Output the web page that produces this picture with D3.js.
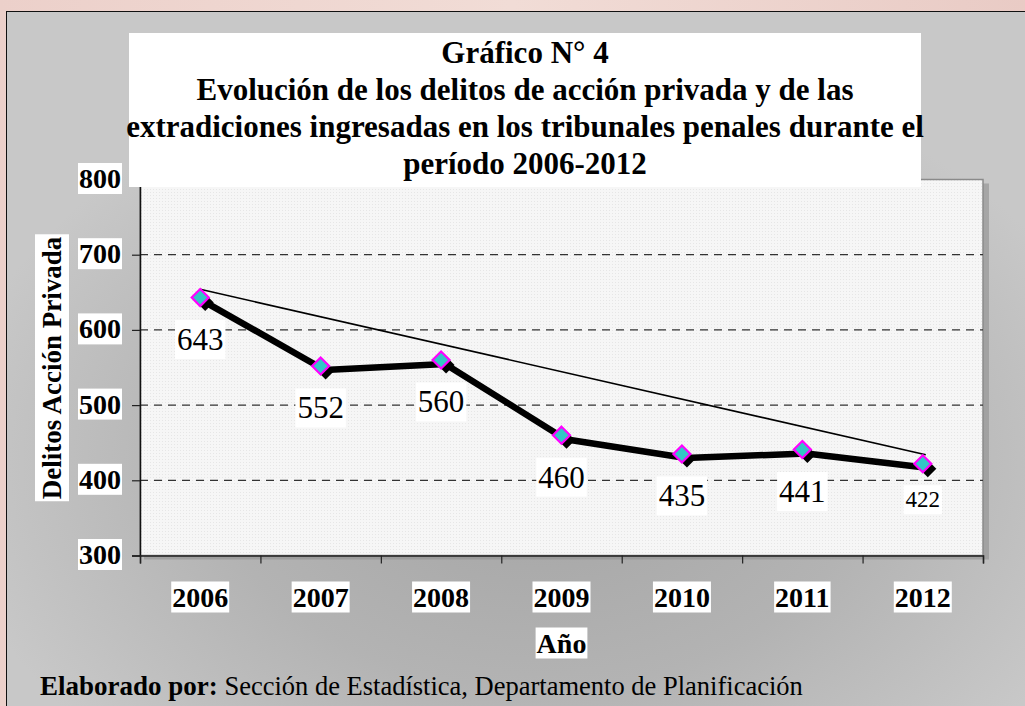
<!DOCTYPE html>
<html>
<head>
<meta charset="utf-8">
<script src="https://cdn.jsdelivr.net/npm/d3@7"></script>
<style>
  html, body { margin: 0; padding: 0; background: #efd8d2; }
  svg { display: block; font-family: "Liberation Serif", "Times New Roman", serif; }
</style>
</head>
<body>
<svg id="chart" width="1025" height="706"></svg>
<script>
// chart data
const years = ["2006", "2007", "2008", "2009", "2010", "2011", "2012"];
const delitos = [643, 552, 560, 460, 435, 441, 422];
const trendValues = [654, 434]; // hand drawn trend line, first year to last year
const yTicks = [300, 400, 500, 600, 700, 800];
const gridTicks = [400, 500, 600, 700];
const titleLines = [
  "Gráfico N° 4",
  "Evolución de los delitos de acción privada y de las",
  "extradiciones ingresadas en los tribunales penales durante el",
  "período 2006-2012"
];
const yTitle = "Delitos Acción Privada";
const xTitle = "Año";
const sourceBold = "Elaborado por:";
const sourceText = " Sección de Estadística, Departamento de Planificación";

const width = 1025, height = 706;
const margin = {top: 179.5, right: 42, bottom: 150.5, left: 140};

const svg = d3.select("#chart");
const defs = svg.append("defs");

// pinkish page background
const bgGrad = defs.append("linearGradient")
  .attr("id", "bgGrad").attr("x1", "0%").attr("y1", "0%").attr("x2", "100%").attr("y2", "0%");
bgGrad.append("stop").attr("offset", "0%").attr("stop-color", "#ecd0ca");
bgGrad.append("stop").attr("offset", "50%").attr("stop-color", "#f1dcd6");
bgGrad.append("stop").attr("offset", "100%").attr("stop-color", "#e9cbc5");

svg.append("rect").attr("width", width).attr("height", height).attr("fill", "url(#bgGrad)");

// gray panel with darker halo round the plot
const panelGrad = defs.append("radialGradient")
  .attr("id", "panelGrad").attr("cx", "52%").attr("cy", "64%").attr("r", "58%");
panelGrad.append("stop").attr("offset", "0%").attr("stop-color", "#a4a4a4");
panelGrad.append("stop").attr("offset", "55%").attr("stop-color", "#b3b3b3");
panelGrad.append("stop").attr("offset", "100%").attr("stop-color", "#c8c8c8");

svg.append("rect")
  .attr("x", 6.5).attr("y", 11.5)
  .attr("width", width).attr("height", height)
  .attr("fill", "url(#panelGrad)")
  .attr("stroke", "#111").attr("stroke-width", 1);

const x = d3.scaleBand()
  .domain(years)
  .range([margin.left, width - margin.right]);

const y = d3.scaleLinear()
  .domain([300, 800])
  .range([height - margin.bottom, margin.top]);

const cx = d => x(d) + x.bandwidth() / 2;

const plotW = x.range()[1] - x.range()[0];
const plotH = y.range()[0] - y.range()[1];

// plot area shadow + fill
svg.append("rect")
  .attr("x", margin.left + 4).attr("y", margin.top + 4)
  .attr("width", plotW + 2).attr("height", plotH)
  .attr("fill", "#8f8f8f").attr("opacity", 0.6);

const dots = defs.append("pattern")
  .attr("id", "dots").attr("width", 3).attr("height", 3)
  .attr("patternUnits", "userSpaceOnUse");
dots.append("rect").attr("width", 3).attr("height", 3).attr("fill", "#f6f6f6");
dots.append("rect").attr("width", 1).attr("height", 1).attr("fill", "#e6e6e6");

svg.append("rect")
  .attr("x", margin.left).attr("y", margin.top)
  .attr("width", plotW).attr("height", plotH)
  .attr("fill", "url(#dots)")
  .attr("stroke", "#8a8a8a").attr("stroke-width", 1.5);

// dashed gridlines
svg.append("g")
  .selectAll("line")
  .data(gridTicks)
  .join("line")
  .attr("x1", margin.left).attr("x2", x.range()[1])
  .attr("y1", d => y(d)).attr("y2", d => y(d))
  .attr("stroke", "#333").attr("stroke-width", 1.2)
  .attr("stroke-dasharray", "8,6");

// y axis
svg.append("g")
  .attr("transform", `translate(${margin.left},0)`)
  .call(d3.axisLeft(y).tickValues(yTicks).tickSize(8).tickFormat(""))
  .call(g => g.selectAll("line").attr("stroke", "#222").attr("stroke-width", 1.2))
  .call(g => g.select(".domain").attr("stroke", "#111").attr("stroke-width", 1.5));

// x axis: ticks at category edges
const xEdge = d3.scaleLinear().domain([0, years.length]).range(x.range());
svg.append("g")
  .attr("transform", `translate(0,${y(300)})`)
  .call(d3.axisBottom(xEdge).tickValues(d3.range(years.length + 1)).tickSize(8).tickFormat(""))
  .call(g => g.selectAll("line").attr("stroke", "#222").attr("stroke-width", 1.2))
  .call(g => g.select(".domain").attr("stroke", "#222").attr("stroke-width", 1.5));

// trend line
svg.append("line")
  .attr("x1", cx(years[0])).attr("y1", y(trendValues[0]))
  .attr("x2", cx(years[years.length - 1]) + 3).attr("y2", y(trendValues[1]))
  .attr("stroke", "#000").attr("stroke-width", 1.6);

const data = years.map((d, i) => ({year: d, value: delitos[i]}));

// series line (with its drop shadow look)
svg.append("path")
  .datum(data)
  .attr("transform", "translate(4,4)")
  .attr("fill", "none")
  .attr("stroke", "#000")
  .attr("stroke-width", 6.5)
  .attr("stroke-linejoin", "round")
  .attr("d", d3.line().x(d => cx(d.year)).y(d => y(d.value)));

const diamond = d3.symbol().type(d3.symbolDiamond2).size(185);

svg.append("g")
  .selectAll("path")
  .data(data)
  .join("path")
  .attr("transform", d => `translate(${cx(d.year) + 5},${y(d.value) + 5})`)
  .attr("d", diamond)
  .attr("fill", "#000");

svg.append("g")
  .selectAll("path")
  .data(data)
  .join("path")
  .attr("transform", d => `translate(${cx(d.year)},${y(d.value)})`)
  .attr("d", diamond)
  .attr("fill", "#33c6c6")
  .attr("stroke", "#ff00ff")
  .attr("stroke-width", 2.2);

// helper: text with a white box behind it
function boxedText(g, tx, ty, txt, size, weight, padX, padY) {
  const grp = g.append("g");
  const rect = grp.append("rect").attr("fill", "#fff");
  const t = grp.append("text")
    .attr("x", tx).attr("y", ty)
    .attr("text-anchor", "middle")
    .attr("dominant-baseline", "central")
    .style("font-size", size + "px")
    .style("font-weight", weight)
    .attr("fill", "#000")
    .text(txt);
  const bb = t.node().getBBox();
  rect.attr("x", bb.x - padX).attr("y", bb.y - padY)
    .attr("width", bb.width + 2 * padX).attr("height", bb.height + 2 * padY);
  return grp;
}

// data labels
const labels = svg.append("g");
data.forEach((d, i) => {
  const last = i === data.length - 1;
  boxedText(labels, cx(d.year), y(d.value) + (last ? 36 : 42), d.value,
    last ? 23 : 31, "normal", 2, 2);
});

// title box
const titleG = svg.append("g");
titleG.append("rect")
  .attr("x", 129).attr("y", 33).attr("width", 792).attr("height", 154)
  .attr("fill", "#fff");
titleG.selectAll("text")
  .data(titleLines)
  .join("text")
  .attr("x", 525).attr("y", (d, i) => 63 + i * 37)
  .attr("text-anchor", "middle")
  .style("font-size", "31px")
  .style("font-weight", "bold")
  .text(d => d);

// y tick labels
const yl = svg.append("g");
yTicks.forEach(v => boxedText(yl, 100, y(v) - 1, v, 28, "bold", 1, 0));

// x tick labels
const xl = svg.append("g");
years.forEach(d => boxedText(xl, cx(d), 597, d, 28, "bold", 1, 0));

// axis titles
boxedText(svg, (x.range()[0] + x.range()[1]) / 2, 643, xTitle, 28, "bold", 1, 0);

const yt = boxedText(svg, 0, 0, yTitle, 27, "bold", 2, 2);
yt.attr("transform", "translate(52,368) rotate(-90)");

// source line
svg.append("text")
  .attr("x", 40).attr("y", 695)
  .style("font-size", "27px")
  .call(t => t.append("tspan").style("font-weight", "bold").text(sourceBold))
  .call(t => t.append("tspan").style("font-size", "26.5px").text(sourceText));
</script>
</body>
</html>
